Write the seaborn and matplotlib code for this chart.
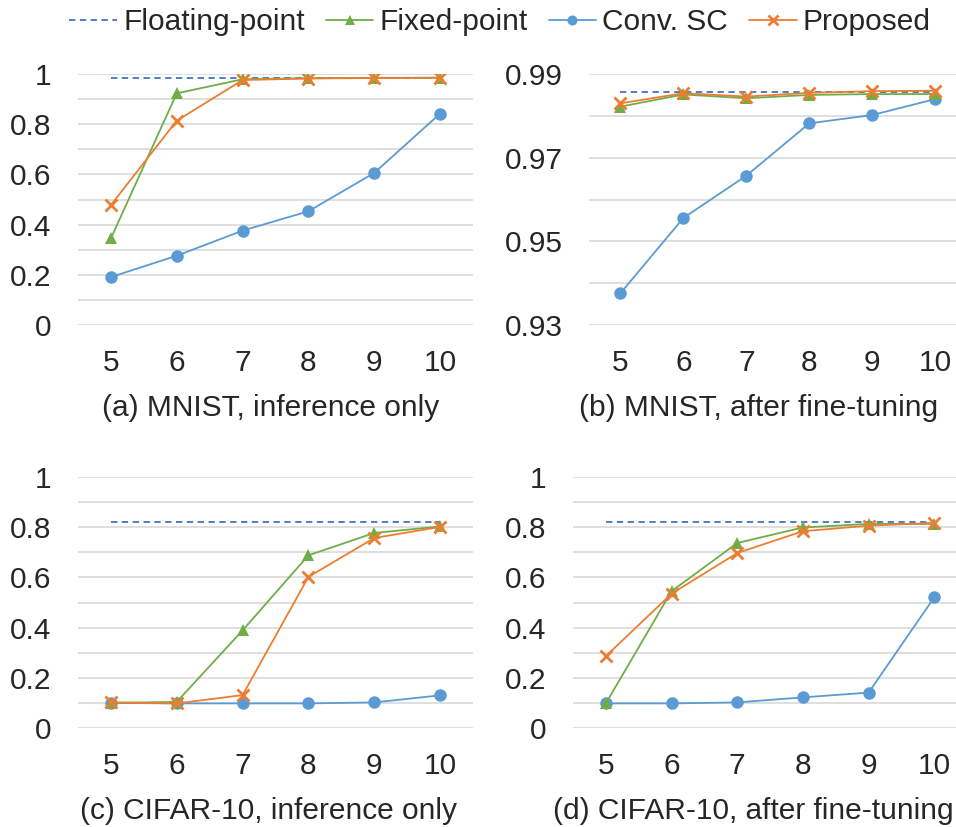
import matplotlib
matplotlib.use("Agg")
import matplotlib.pyplot as plt
import seaborn as sns
import pandas as pd

bits = [5, 6, 7, 8, 9, 10]
series_names = ["Floating-point", "Fixed-point", "Conv. SC", "Proposed"]

# (a) MNIST, inference only
a_float = [0.986] * 6
a_fixed = [0.345, 0.923, 0.979, 0.983, 0.985, 0.985]
a_conv = [0.191, 0.276, 0.376, 0.453, 0.606, 0.842]
a_prop = [0.478, 0.814, 0.976, 0.982, 0.984, 0.985]

# (b) MNIST, after fine-tuning
b_float = [0.9858] * 6
b_fixed = [0.9822, 0.9851, 0.9842, 0.9850, 0.9852, 0.9852]
b_conv = [0.9376, 0.9556, 0.9657, 0.9782, 0.9802, 0.9840]
b_prop = [0.9830, 0.9854, 0.9846, 0.9855, 0.9859, 0.9860]

# (c) CIFAR-10, inference only
c_float = [0.821] * 6
c_fixed = [0.100, 0.104, 0.389, 0.688, 0.777, 0.803]
c_conv = [0.100, 0.098, 0.098, 0.098, 0.102, 0.130]
c_prop = [0.102, 0.098, 0.131, 0.602, 0.757, 0.801]

# (d) CIFAR-10, after fine-tuning
d_float = [0.821] * 6
d_fixed = [0.098, 0.545, 0.737, 0.799, 0.813, 0.813]
d_conv = [0.098, 0.098, 0.102, 0.122, 0.141, 0.521]
d_prop = [0.286, 0.535, 0.697, 0.784, 0.806, 0.817]

captions = ["(a) MNIST, inference only", "(b) MNIST, after fine-tuning",
            "(c) CIFAR-10, inference only", "(d) CIFAR-10, after fine-tuning"]

sns.set_theme(style="white")
plt.rcParams["font.family"] = ["Liberation Sans", "DejaVu Sans"]

W, H = 956, 827
FS = 21.5
fig = plt.figure(figsize=(W / 100, H / 100), dpi=100)

# pixel boxes: left, right, top, bottom
boxes = [(78, 473, 74, 325), (589, 956, 74, 325),
         (78, 473, 477, 728), (573, 956, 477, 728)]
xlims = [(4.5, 10.5), (4.5, 10.33), (4.5, 10.5), (4.5, 10.33)]
# caption centre x and baseline y, in pixels
cap_pos = [(271, 416), (759, 416), (269, 819), (753, 819)]
panels = [(a_float, a_fixed, a_conv, a_prop), (b_float, b_fixed, b_conv, b_prop),
          (c_float, c_fixed, c_conv, c_prop), (d_float, d_fixed, d_conv, d_prop)]

styles = {
    "Floating-point": dict(color="#4472C4", marker=None, ls=(0, (3.5, 2.5)), ms=0),
    "Conv. SC": dict(color="#5B9BD5", marker="o", ls="-", ms=9),
    "Fixed-point": dict(color="#70AD47", marker="^", ls="-", ms=9),
    "Proposed": dict(color="#ED7D31", marker="x", ls="-", ms=9),
}
draw_order = ["Floating-point", "Conv. SC", "Fixed-point", "Proposed"]

for i, (box, vals) in enumerate(zip(boxes, panels)):
    l, r, t, b = box
    ax = fig.add_axes([l / W, 1 - b / H, (r - l) / W, (b - t) / H])
    df = pd.DataFrame({"bits": bits})
    for name, v in zip(series_names, vals):
        df[name] = v
    for name in draw_order:
        st = styles[name]
        sns.lineplot(data=df, x="bits", y=name, ax=ax, color=st["color"],
                     marker=st["marker"], markersize=st["ms"], linestyle=st["ls"],
                     linewidth=1.3, markeredgewidth=2 if st["marker"] == "x" else 0,
                     markeredgecolor=st["color"], label=name, legend=False, zorder=3)
    ax.set_xlim(*xlims[i])
    if i == 1:
        ax.set_ylim(0.93, 0.99)
        ax.set_yticks([0.93, 0.94, 0.95, 0.96, 0.97, 0.98, 0.99])
        ax.set_yticklabels(["0.93", "", "0.95", "", "0.97", "", "0.99"])
    else:
        ax.set_ylim(0, 1)
        ax.set_yticks([x / 10 for x in range(11)])
        ax.set_yticklabels(["0" if k == 0 else ("1" if k == 10 else (f"{k/10:.1f}" if k % 2 == 0 else ""))
                            for k in range(11)])
    ax.set_xticks(bits)
    ax.set_xticklabels([str(x) for x in bits])
    ax.grid(axis="y", color="#d9d9d9", linewidth=1.2)
    ax.set_axisbelow(True)
    for s in ax.spines.values():
        s.set_visible(False)
    ax.tick_params(axis="y", length=0, pad=19, labelsize=FS)
    ax.tick_params(axis="x", length=0, pad=17, labelsize=FS)
    ax.set_xlabel("")
    ax.set_ylabel("")
    ax.set_facecolor("none")
    if i == 0:
        handles, labels = ax.get_legend_handles_labels()
    cx, cy = cap_pos[i]
    fig.text(cx / W, 1 - cy / H, captions[i], ha="center", va="baseline", fontsize=FS)

order = [labels.index(n) for n in series_names]
fig.legend([handles[k] for k in order], [labels[k] for k in order],
           loc="center", bbox_to_anchor=(500 / W, 1 - 22 / H), ncol=4, frameon=False,
           fontsize=FS, handlelength=1.6, handletextpad=0.2, columnspacing=0.7,
           markerscale=0.8)

fig.savefig("out.png", dpi=100)
